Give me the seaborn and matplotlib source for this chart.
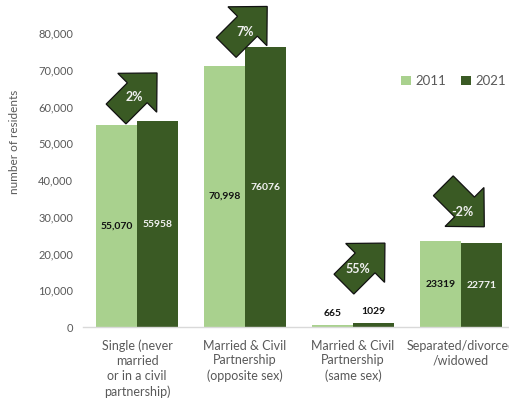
import matplotlib
matplotlib.use("Agg")
import matplotlib.pyplot as plt
import matplotlib.transforms as mtransforms
from matplotlib.patches import Polygon, Patch
import numpy as np
import pandas as pd
import seaborn as sns

# ---- data ----
categories = [
    "Single (never\nmarried\nor in a civil\npartnership)",
    "Married & Civil\nPartnership\n(opposite sex)",
    "Married & Civil\nPartnership\n(same sex)",
    "Separated/divorced\n/widowed",
]
years = ["2011", "2021"]
values_2011 = [55070, 70998, 665, 23319]
values_2021 = [55958, 76076, 1029, 22771]
labels_2011 = ["55,070", "70,998", "665", "23319"]
labels_2021 = ["55958", "76076", "1029", "22771"]
change_labels = ["2%", "7%", "55%", "-2%"]
change_up = [True, True, True, False]
arrow_pos_x = [-0.05, 0.97, 2.06, 2.98]
arrow_pos_y = [62200, 80300, 15900, 34200]
yticks = [0, 10000, 20000, 30000, 40000, 50000, 60000, 70000, 80000]

light = "#a9d18e"
dark = "#3a5a24"
grey = "#595959"

sns.set_theme(style="white")
plt.rcParams["font.family"] = ["Lato", "DejaVu Sans"]

df = pd.DataFrame({
    "category": categories * 2,
    "value": values_2011 + values_2021,
    "year": [years[0]] * 4 + [years[1]] * 4,
})

W, H = 510, 403
fig = plt.figure(figsize=(W / 100, H / 100), dpi=100)
ax = fig.add_axes([83 / W, 76 / H, 432 / W, 323.4 / H])

sns.barplot(data=df, x="category", y="value", hue="year", order=categories,
            hue_order=years, palette=[light, dark], width=0.76, saturation=1,
            ax=ax, legend=False, edgecolor="none")

ax.set_xlim(-0.5, 3.5)
ax.set_ylim(0, 88000)
ax.set_yticks(yticks)
ax.set_yticklabels([f"{v:,}" for v in yticks], color=grey, fontsize=8)
ax.tick_params(axis="y", length=0, pad=7)
ax.tick_params(axis="x", length=0, pad=9, labelsize=9, labelcolor=grey)
ax.set_xticks(range(4))
ax.set_xticklabels(categories, linespacing=1.3)
ax.set_xlabel("")
ax.set_ylabel("")
for s in ["left", "right", "top"]:
    ax.spines[s].set_visible(False)
ax.spines["bottom"].set_color("#d9d9d9")
ax.spines["bottom"].set_linewidth(1)

fig.text(15 / W, 1 - 142 / H, "number of residents", rotation=90,
         ha="center", va="center", fontsize=8.5, color=grey)

# ---- value labels ----
label_sets = [labels_2011, labels_2021]
text_colors = ["#111111", "#f2f2f2"]
for k, cont in enumerate(ax.containers):
    for i, patch in enumerate(cont.patches):
        xc = patch.get_x() + patch.get_width() / 2
        h = patch.get_height()
        if h > 5000:
            ax.text(xc, h / 2, label_sets[k][i], ha="center", va="center",
                    fontsize=7.5, fontweight="bold", color=text_colors[k])
        else:
            ax.annotate(label_sets[k][i], (xc, h), xytext=(0, 5),
                        textcoords="offset points", ha="center", va="bottom",
                        fontsize=7.5, fontweight="bold", color="#111111")

# ---- change arrows ----
shaft_hw, shaft_len, head_hw, total = 14, 30, 27.5, 58
base = np.array([[0, -shaft_hw], [shaft_len, -shaft_hw], [shaft_len, -head_hw],
                 [total, 0], [shaft_len, head_hw], [shaft_len, shaft_hw],
                 [0, shaft_hw]])
text_off = [(3, 1), (3, 0), (-2, 0), (4, -11)]
for i in range(4):
    ang = np.deg2rad(45 if change_up[i] else -45)
    R = np.array([[np.cos(ang), -np.sin(ang)], [np.sin(ang), np.cos(ang)]])
    verts = base @ R.T
    c = (verts.min(axis=0) + verts.max(axis=0)) / 2
    verts = (verts - c) * fig.dpi / 100
    tr = mtransforms.ScaledTranslation(arrow_pos_x[i], arrow_pos_y[i], ax.transData)
    poly = Polygon(verts, closed=True, facecolor=dark, edgecolor="#111111",
                   linewidth=0.9, transform=tr, clip_on=False, zorder=5)
    ax.add_patch(poly)
    ax.annotate(change_labels[i], (arrow_pos_x[i], arrow_pos_y[i]),
                xytext=(text_off[i][0] * 0.72, text_off[i][1] * 0.72),
                textcoords="offset points", ha="center", va="center",
                fontsize=9, fontweight="bold", color="#f0f0f0", zorder=6,
                annotation_clip=False)

# ---- legend ----
handles = [Patch(facecolor=light, edgecolor="none", label=years[0]),
           Patch(facecolor=dark, edgecolor="none", label=years[1])]
fig.legend(handles=handles, loc="center left", bbox_to_anchor=(401 / W, 1 - 81 / H),
           ncol=2, frameon=False, fontsize=9.5, handlelength=0.75, handleheight=0.75,
           handletextpad=0.35, columnspacing=1.1, borderpad=0, borderaxespad=0,
           labelcolor=grey)

fig.savefig("out.png", dpi=100)
